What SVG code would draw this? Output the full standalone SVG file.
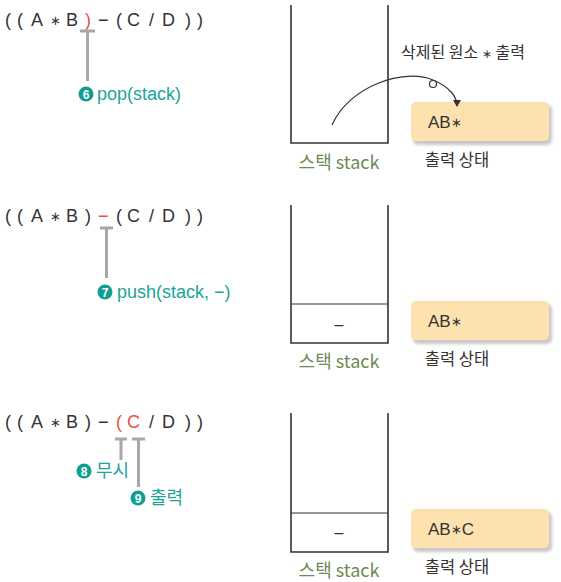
<svg xmlns="http://www.w3.org/2000/svg" width="561" height="582" viewBox="0 0 561 582">
<style>
.expr{font-family:"Liberation Sans","Noto Sans CJK KR",sans-serif;font-size:18px;fill:#333}
.ast{font-size:13px}
.red{fill:#e2553f}
.lbl{font-family:"Liberation Sans","Noto Sans CJK KR",sans-serif;font-size:18px;fill:#1aa598}
.num{font-family:"Liberation Sans",sans-serif;font-size:12px;font-weight:bold;fill:#fff;text-anchor:middle}
.numc{fill:#119e92}
.stk{fill:none;stroke:#333;stroke-width:1.6}
.div{stroke:#333;stroke-width:1.2}
.sl{font-family:"Noto Sans CJK KR","Liberation Sans",sans-serif;font-size:18px;fill:#6e8a52;text-anchor:middle}
.ol{font-family:"Noto Sans CJK KR","Liberation Sans",sans-serif;font-size:16.5px;fill:#333;text-anchor:middle}
.box{fill:#fde2b0}
.shd{fill:#c8c8c8}
.bt{font-family:"Liberation Sans",sans-serif;font-size:17px;fill:#333}
.tl{stroke:#a8a8a8;stroke-width:3;fill:none}
.dash{font-family:"Liberation Sans",sans-serif;font-size:16px;fill:#333;text-anchor:middle}
</style>
<defs>
<marker id="ah" markerWidth="8" markerHeight="8" refX="6" refY="4" orient="auto" markerUnits="userSpaceOnUse">
<path d="M0,0 L7,4 L0,8 Z" fill="#333"/>
</marker>
<filter id="blur" x="-10%" y="-10%" width="130%" height="140%"><feGaussianBlur stdDeviation="1.5"/></filter>
</defs>

<!-- Panel 1 -->
<g id="expr1">
<text class="expr" y="26"><tspan x="5">(</tspan><tspan x="17">(</tspan><tspan x="31">A</tspan><tspan x="50" class="ast" dy="-1">∗</tspan><tspan x="66" dy="1">B</tspan><tspan x="85" class="red">)</tspan><tspan x="98">−</tspan><tspan x="116">(</tspan><tspan x="127">C</tspan><tspan x="149">/</tspan><tspan x="162">D</tspan><tspan x="185">)</tspan><tspan x="197">)</tspan></text>
</g>
<g id="note6">
<path class="tl" d="M80,31 H95 M87.5,31 V81"/>
<circle class="numc" cx="86" cy="94" r="7.5"/>
<text class="num" x="86" y="98.5">6</text>
<text class="lbl" x="97" y="100">pop(stack)</text>
</g>
<g id="stack1">
<path class="stk" d="M291,5 V143 H388 V5"/>
<text class="sl" x="339" y="169">스택 stack</text>
</g>
<g id="out1">
<rect class="shd" x="413" y="105" width="139" height="40" rx="5" filter="url(#blur)"/>
<rect class="box" x="411" y="102" width="138" height="39" rx="5"/>
<text class="bt" x="428" y="128">AB<tspan class="ast" dy="-1">∗</tspan></text>
<text class="ol" x="457" y="166">출력 상태</text>
</g>
<text class="ol" x="463" y="58" style="font-size:16px">삭제된 원소 <tspan style="font-size:12px">∗</tspan> 출력</text>
<g id="connectors">
<path d="M332,125 C350,85 405,68 433,80 C450,87 457,97 457,106" fill="none" stroke="#333" stroke-width="1.2" marker-end="url(#ah)"/>
<circle cx="433" cy="84" r="3.5" fill="#fff" stroke="#333" stroke-width="1.2"/>
</g>

<!-- Panel 2 -->
<g id="expr2">
<text class="expr" y="222"><tspan x="5">(</tspan><tspan x="17">(</tspan><tspan x="31">A</tspan><tspan x="50" class="ast" dy="-1">∗</tspan><tspan x="66" dy="1">B</tspan><tspan x="85">)</tspan><tspan x="98" class="red">−</tspan><tspan x="116">(</tspan><tspan x="127">C</tspan><tspan x="149">/</tspan><tspan x="162">D</tspan><tspan x="185">)</tspan><tspan x="197">)</tspan></text>
</g>
<g id="note7">
<path class="tl" d="M100,228 H113 M106.5,228 V278"/>
<circle class="numc" cx="105" cy="292" r="7.5"/>
<text class="num" x="105" y="296.5">7</text>
<text class="lbl" x="117" y="298">push(stack, −)</text>
</g>
<g id="stack2">
<path class="stk" d="M291,205 V343 H388 V205"/>
<line class="div" x1="291" y1="304" x2="388" y2="304"/>
<text class="dash" x="339" y="330">–</text>
<text class="sl" x="339" y="368">스택 stack</text>
</g>
<g id="out2">
<rect class="shd" x="413" y="304" width="139" height="40" rx="5" filter="url(#blur)"/>
<rect class="box" x="411" y="301" width="138" height="39" rx="5"/>
<text class="bt" x="428" y="327">AB<tspan class="ast" dy="-1">∗</tspan></text>
<text class="ol" x="457" y="365">출력 상태</text>
</g>

<!-- Panel 3 -->
<g id="expr3">
<text class="expr" y="428"><tspan x="5">(</tspan><tspan x="17">(</tspan><tspan x="31">A</tspan><tspan x="50" class="ast" dy="-1">∗</tspan><tspan x="66" dy="1">B</tspan><tspan x="85">)</tspan><tspan x="98">−</tspan><tspan x="116" class="red">(</tspan><tspan x="127" class="red">C</tspan><tspan x="149">/</tspan><tspan x="162">D</tspan><tspan x="185">)</tspan><tspan x="197">)</tspan></text>
</g>
<g id="note8">
<path class="tl" d="M115,439 H127 M121,439 V460"/>
<circle class="numc" cx="84" cy="471" r="7.5"/>
<text class="num" x="84" y="475.5">8</text>
<text class="lbl" x="96" y="477">무시</text>
</g>
<g id="note9">
<path class="tl" d="M132,439 H145 M138.5,439 V487"/>
<circle class="numc" cx="138" cy="498" r="7.5"/>
<text class="num" x="138" y="502.5">9</text>
<text class="lbl" x="150" y="504">출력</text>
</g>
<g id="stack3">
<path class="stk" d="M291,413 V552 H388 V413"/>
<line class="div" x1="291" y1="513" x2="388" y2="513"/>
<text class="dash" x="339" y="538">–</text>
<text class="sl" x="339" y="577">스택 stack</text>
</g>
<g id="out3">
<rect class="shd" x="413" y="512" width="139" height="40" rx="5" filter="url(#blur)"/>
<rect class="box" x="411" y="509" width="138" height="39" rx="5"/>
<text class="bt" x="428" y="535">AB<tspan class="ast" dy="-1">∗</tspan><tspan dy="1">C</tspan></text>
<text class="ol" x="457" y="573">출력 상태</text>
</g>
</svg>
